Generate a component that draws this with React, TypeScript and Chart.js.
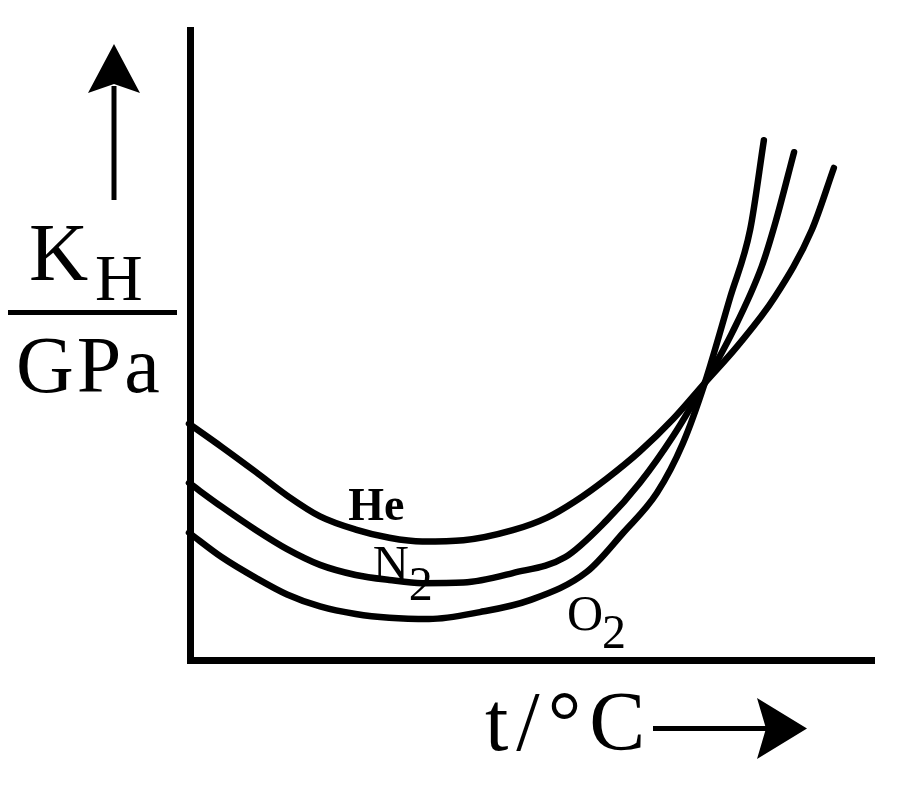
import { useEffect, useRef } from "react"
import { Chart, registerables } from "chart.js"

Chart.register(...registerables)

// Schematic curves: temperature (arbitrary 0-100) vs K_H (arbitrary 0-100)
const heTemp = [0, 4.8, 9.8, 14.3, 19.1, 24.3, 29.2, 34.0, 40.0, 47.2, 52.2, 56.3, 60.9, 65.7, 70.6, 75.2, 80.0, 85.4, 90.8, 94.0]
const heKH = [37.5, 33.8, 29.8, 26.1, 22.8, 20.7, 19.4, 18.8, 19.0, 20.6, 22.6, 25.2, 28.8, 33.1, 38.3, 44.0, 49.9, 57.6, 68.3, 78.1]

const n2Temp = [0, 4.8, 9.8, 14.3, 19.1, 24.3, 29.2, 34.0, 40.0, 47.2, 54.8, 60.9, 65.7, 70.6, 75.2, 79.2, 83.5, 85.5, 88.2]
const n2KH = [28.1, 24.3, 20.6, 17.6, 15.1, 13.5, 12.7, 12.2, 12.3, 13.8, 16.3, 22.2, 28.1, 35.6, 44.0, 52.0, 62.5, 69.5, 80.6]

const o2Temp = [0, 4.8, 9.8, 14.3, 19.1, 24.3, 29.2, 35.0, 42.4, 49.7, 58.0, 63.3, 68.2, 72.0, 75.2, 78.9, 81.8, 83.8]
const o2KH = [20.2, 16.3, 13.0, 10.4, 8.5, 7.3, 6.7, 6.5, 7.6, 9.5, 14.0, 20.2, 26.5, 34.4, 44.0, 57.6, 68.3, 82.5]

const SERIF = "'Liberation Serif', 'Times New Roman', serif"

const toPoints = (xs: number[], ys: number[]) => xs.map((x, i) => ({ x, y: ys[i] }))

function fillArrowHead(ctx: CanvasRenderingContext2D, pts: number[][]) {
  ctx.beginPath()
  ctx.moveTo(pts[0][0], pts[0][1])
  for (let i = 1; i < pts.length; i++) ctx.lineTo(pts[i][0], pts[i][1])
  ctx.closePath()
  ctx.fill()
}

// axes, arrows and all the text of the sketch
const sketchPlugin = {
  id: "sketch",
  afterDatasetsDraw(chart: any) {
    const { ctx, chartArea, scales } = chart
    const x0 = scales.x.getPixelForValue(0)
    const y0 = scales.y.getPixelForValue(0)
    const px = (v: number) => scales.x.getPixelForValue(v)
    const py = (v: number) => scales.y.getPixelForValue(v)

    ctx.save()
    ctx.strokeStyle = "#000"
    ctx.fillStyle = "#000"

    // axes
    ctx.lineWidth = 7
    ctx.lineCap = "butt"
    ctx.lineJoin = "miter"
    ctx.beginPath()
    ctx.moveTo(x0 + 1.5, chartArea.top - 3)
    ctx.lineTo(x0 + 1.5, y0 + 0.5)
    ctx.lineTo(chartArea.right, y0 + 0.5)
    ctx.stroke()

    // up arrow (y label)
    ctx.lineWidth = 5
    ctx.beginPath()
    ctx.moveTo(114, 200)
    ctx.lineTo(114, 86)
    ctx.stroke()
    fillArrowHead(ctx, [[114, 44], [140, 93], [114, 84], [88, 93]])

    // right arrow (x label)
    ctx.beginPath()
    ctx.moveTo(653, 728.5)
    ctx.lineTo(766, 728.5)
    ctx.stroke()
    fillArrowHead(ctx, [[807, 728.5], [757, 698], [766, 728.5], [757, 759]])

    // y label: K_H / GPa
    ctx.textAlign = "left"
    ctx.textBaseline = "alphabetic"
    ctx.font = `82px ${SERIF}`
    ctx.fillText("K", 29, 280)
    ctx.font = `66px ${SERIF}`
    ctx.fillText("H", 95, 300)
    ctx.beginPath()
    ctx.moveTo(8, 312.5)
    ctx.lineTo(177, 312.5)
    ctx.stroke()
    ctx.font = `80px ${SERIF}`
    ctx.letterSpacing = "3px"
    ctx.fillText("GPa", 16, 392)

    // x label
    ctx.font = `84px ${SERIF}`
    ctx.letterSpacing = "8px"
    ctx.fillText("t/°C", 485, 750)
    ctx.letterSpacing = "0px"

    // curve labels
    ctx.font = `bold 46px ${SERIF}`
    ctx.fillText("He", px(23.2), py(22.2))
    ctx.font = `50px ${SERIF}`
    ctx.fillText("N", px(26.8), py(12.7))
    ctx.font = `48px ${SERIF}`
    ctx.fillText("2", px(26.8) + 36, py(12.7) + 20)
    ctx.font = `50px ${SERIF}`
    ctx.fillText("O", px(55.1), py(4.8))
    ctx.font = `48px ${SERIF}`
    ctx.fillText("2", px(55.1) + 35, py(4.8) + 18)

    ctx.restore()
  },
}

export default function App() {
  const chartRef = useRef<HTMLCanvasElement>(null)
  const chartInstance = useRef<Chart | null>(null)

  useEffect(() => {
    if (!chartRef.current) return
    if (chartInstance.current) chartInstance.current.destroy()
    const ctx = chartRef.current.getContext("2d")
    if (!ctx) return

    const curve = (label: string, xs: number[], ys: number[]) => ({
      label,
      data: toPoints(xs, ys),
      borderColor: "#000",
      borderWidth: 6.5,
      pointRadius: 0,
      fill: false,
      cubicInterpolationMode: "monotone" as const,
      borderCapStyle: "round" as const,
      borderJoinStyle: "round" as const,
      clip: 12,
    })

    chartInstance.current = new Chart(ctx, {
      type: "line",
      data: {
        datasets: [curve("He", heTemp, heKH), curve("N2", n2Temp, n2KH), curve("O2", o2Temp, o2KH)],
      },
      options: {
        animation: false,
        responsive: false,
        events: [],
        layout: { padding: { left: 189, right: 25, top: 30, bottom: 129 } },
        scales: {
          x: { type: "linear", min: 0, max: 100, display: false },
          y: { type: "linear", min: 0, max: 100, display: false },
        },
        plugins: {
          legend: { display: false },
          tooltip: { enabled: false },
        },
      },
      plugins: [sketchPlugin],
    })

    return () => {
      if (chartInstance.current) {
        chartInstance.current.destroy()
        chartInstance.current = null
      }
    }
  }, [])

  return (
    <div style={{ position: "fixed", left: 0, top: 0, width: 900, height: 789, background: "#fff" }}>
      <canvas ref={chartRef} width={900} height={789} style={{ width: 900, height: 789 }} />
    </div>
  )
}
